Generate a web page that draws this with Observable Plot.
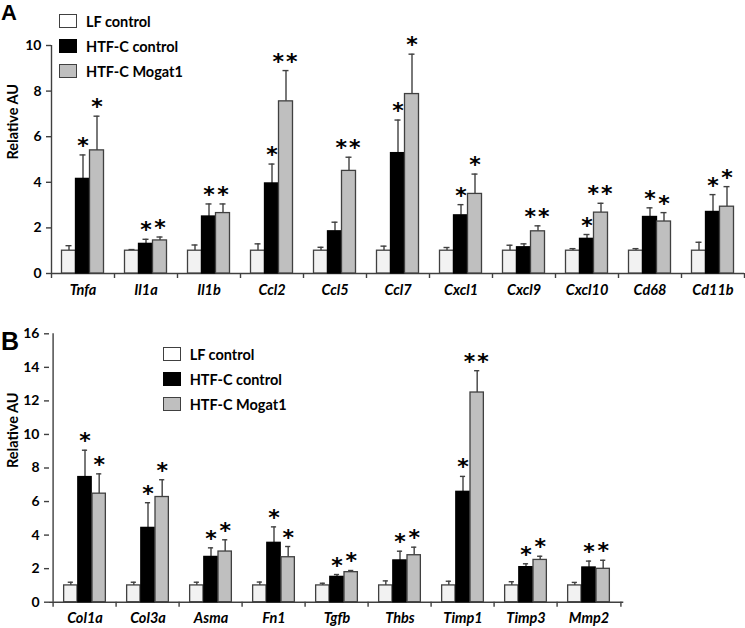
<!DOCTYPE html>
<html><head><meta charset="utf-8">
<script src="https://cdn.jsdelivr.net/npm/d3@7"></script>
<script src="https://cdn.jsdelivr.net/npm/@observablehq/plot@0.6"></script>
<style>
body{margin:0;background:#fff;font-family:Lato,sans-serif;}
#wrap{position:relative;width:745px;height:628px;overflow:hidden;background:#fff}
.panel{position:absolute;left:0}
.plabel{position:absolute;font-family:"Liberation Sans",Arial,sans-serif;font-weight:bold;color:#000;line-height:1.1}
.legend{position:absolute;font-family:Lato,sans-serif;font-weight:bold;font-size:14.5px;color:#000}
.legend .row{display:flex;align-items:center;height:25px}
.legend .sw{box-sizing:border-box;width:18px;height:14px;border:1.4px solid #404040;margin-right:9px}
</style></head><body><div id="wrap"></div>
<script>
const seriesNames = ["LF control", "HTF-C control", "HTF-C Mogat1"];
const seriesFill = ["#f2f2f2", "#000000", "#bfbfbf"];

// Panel A
const genesA = ["Tnfa","Il1a","Il1b","Ccl2","Ccl5","Ccl7","Cxcl1","Cxcl9","Cxcl10","Cd68","Cd11b"];
const lfA     = [1,1,1,1,1,1,1,1,1,1,1];
const lfSemA  = [0.22,0.05,0.25,0.3,0.15,0.2,0.14,0.24,0.09,0.09,0.37];
const htfA    = [4.15,1.3,2.5,3.95,1.85,5.28,2.55,1.15,1.52,2.48,2.7];
const htfSemA = [1.05,0.2,0.55,0.85,0.4,1.45,0.47,0.15,0.19,0.4,0.76];
const mogA    = [5.4,1.45,2.65,7.55,4.5,7.87,3.49,1.85,2.67,2.28,2.93];
const mogSemA = [1.5,0.15,0.4,1.35,0.6,1.75,0.87,0.24,0.41,0.39,0.88];
const sigHtfA = ["*","*","*","*","","*","*","","*","*","*"];
const sigMogA = ["*","*","*","**","**","*","*","**","**","*","*"];
const yTicksA = [0,2,4,6,8,10];

// Panel B
const genesB = ["Col1a","Col3a","Asma","Fn1","Tgfb","Thbs","Timp1","Timp3","Mmp2"];
const lfB     = [1,1,1,1,1,1,1,1,1];
const lfSemB  = [0.19,0.19,0.19,0.2,0.13,0.27,0.25,0.22,0.18];
const htfB    = [7.46,4.43,2.7,3.54,1.51,2.49,6.58,2.09,2.07];
const htfSemB = [1.6,1.5,0.54,0.95,0.14,0.55,0.92,0.2,0.38];
const mogB    = [6.47,6.27,3.02,2.68,1.79,2.8,12.5,2.52,1.99];
const mogSemB = [1.18,1.03,0.7,0.64,0.1,0.48,1.3,0.22,0.51];
const sigHtfB = ["*","*","*","*","*","*","*","*","*"];
const sigMogB = ["*","*","*","*","*","*","**","*","*"];
const yTicksB = [0,2,4,6,8,10,12,14,16];

const AX = "#404040";

function panel(o) {
  const {genes, means, sems, sigs, yTicks, width, height, mL, mR, mT, mB} = o;
  const yMax = yTicks[yTicks.length - 1];
  const bw = (width - mL - mR) / genes.length;
  const w = bw * 14 / 63;
  const marks = [];
  marks.push(Plot.ruleY([0], {stroke: AX, strokeWidth: 1.4}));
  marks.push(Plot.ruleX([genes[0]], {x: d => d, dx: -bw / 2, y1: 0, y2: yMax, stroke: AX, strokeWidth: 1.4}));
  marks.push(Plot.ruleX(genes, {x: d => d, dx: -bw / 2, y1: 0, y2: 0, insetBottom: -5, stroke: AX, strokeWidth: 1.4}));
  marks.push(Plot.ruleX([genes[genes.length - 1]], {x: d => d, dx: bw / 2, y1: 0, y2: 0, insetBottom: -5, stroke: AX, strokeWidth: 1.4}));
  seriesNames.forEach((name, k) => {
    const off = (k - 1) * w;
    const rows = genes.map((g, i) => ({gene: g, series: name, mean: means[k][i], hi: means[k][i] + sems[k][i], sig: sigs[k] ? sigs[k][i] : ""}));
    marks.push(Plot.ruleX(rows, {x: "gene", y1: "mean", y2: "hi", dx: off, stroke: AX, strokeWidth: 1.4}));
    marks.push(Plot.tickY(rows, {x: "gene", y: "hi", stroke: AX, strokeWidth: 1.4, insetLeft: bw / 2 + off - 3, insetRight: bw / 2 - off - 3}));
    marks.push(Plot.barY(rows, {x: "gene", y: "mean", fill: seriesFill[k], stroke: k === 1 ? "#000" : AX, strokeWidth: 1.3,
      insetLeft: bw / 2 + off - w / 2, insetRight: bw / 2 - off - w / 2}));
    marks.push(Plot.text(rows.filter(r => r.sig), {x: "gene", y: "hi", text: "sig", dx: off, dy: -2, lineAnchor: "bottom",
      fontSize: 22, fontWeight: "bold", fontFamily: "DejaVu Sans", fill: "#000"}));
  });
  marks.push(Plot.axisY({ticks: yTicks, tickSize: 5, tickPadding: 5, fontSize: 14, fontWeight: "bold", label: null, stroke: AX, strokeWidth: 1.4}));
  marks.push(Plot.axisX({tickSize: 0, tickPadding: 11, fontSize: 14.5, fontWeight: "bold", fontStyle: "italic", label: null}));
  marks.push(Plot.text(["Relative AU"], {text: d => d, frameAnchor: "left", rotate: -90, dx: 12.5 - mL, fontSize: 14.5, fontWeight: "bold"}));
  const svg = Plot.plot({
    width, height, marginLeft: mL, marginRight: mR, marginTop: mT, marginBottom: mB,
    style: {fontFamily: "Lato, sans-serif", color: "#000", background: "#fff", overflow: "visible"},
    x: {domain: genes, padding: 0},
    y: {domain: [0, yMax]},
    marks
  });
  d3.select(svg).selectAll("text").filter(function () { return this.textContent === "**"; })
    .style("letter-spacing", "2px");
  return svg;
}

function legend(left, top) {
  const d = document.createElement("div");
  d.className = "legend";
  d.style.left = left + "px";
  d.style.top = top + "px";
  seriesNames.forEach((n, k) => {
    const r = document.createElement("div"); r.className = "row";
    const s = document.createElement("div"); s.className = "sw"; s.style.background = k === 0 ? "#fff" : seriesFill[k];
    if (k === 1) s.style.borderColor = "#000";
    const t = document.createElement("span"); t.textContent = n;
    r.appendChild(s); r.appendChild(t); d.appendChild(r);
  });
  return d;
}

const wrap = document.getElementById("wrap");
const a = panel({genes: genesA, means: [lfA, htfA, mogA], sems: [lfSemA, htfSemA, mogSemA], sigs: [null, sigHtfA, sigMogA],
  yTicks: yTicksA, width: 745, height: 305, mL: 51, mR: 1, mT: 45, mB: 32});
a.classList.add("panel"); a.style.top = "0px";
wrap.appendChild(a);
const b = panel({genes: genesB, means: [lfB, htfB, mogB], sems: [lfSemB, htfSemB, mogSemB], sigs: [null, sigHtfB, sigMogB],
  yTicks: yTicksB, width: 745, height: 323, mL: 49, mR: 121.7, mT: 28.3, mB: 26.3});
b.classList.add("panel"); b.style.top = "305px";
wrap.appendChild(b);
wrap.appendChild(legend(59, 8.5));
wrap.appendChild(legend(162.7, 341.5));
const la = document.createElement("div"); la.className = "plabel"; la.textContent = "A";
la.style.left = "1px"; la.style.top = "1px"; la.style.fontSize = "22px"; wrap.appendChild(la);
const lb = document.createElement("div"); lb.className = "plabel"; lb.textContent = "B";
lb.style.left = "1px"; lb.style.top = "328px"; lb.style.fontSize = "25px"; wrap.appendChild(lb);
</script></body></html>
